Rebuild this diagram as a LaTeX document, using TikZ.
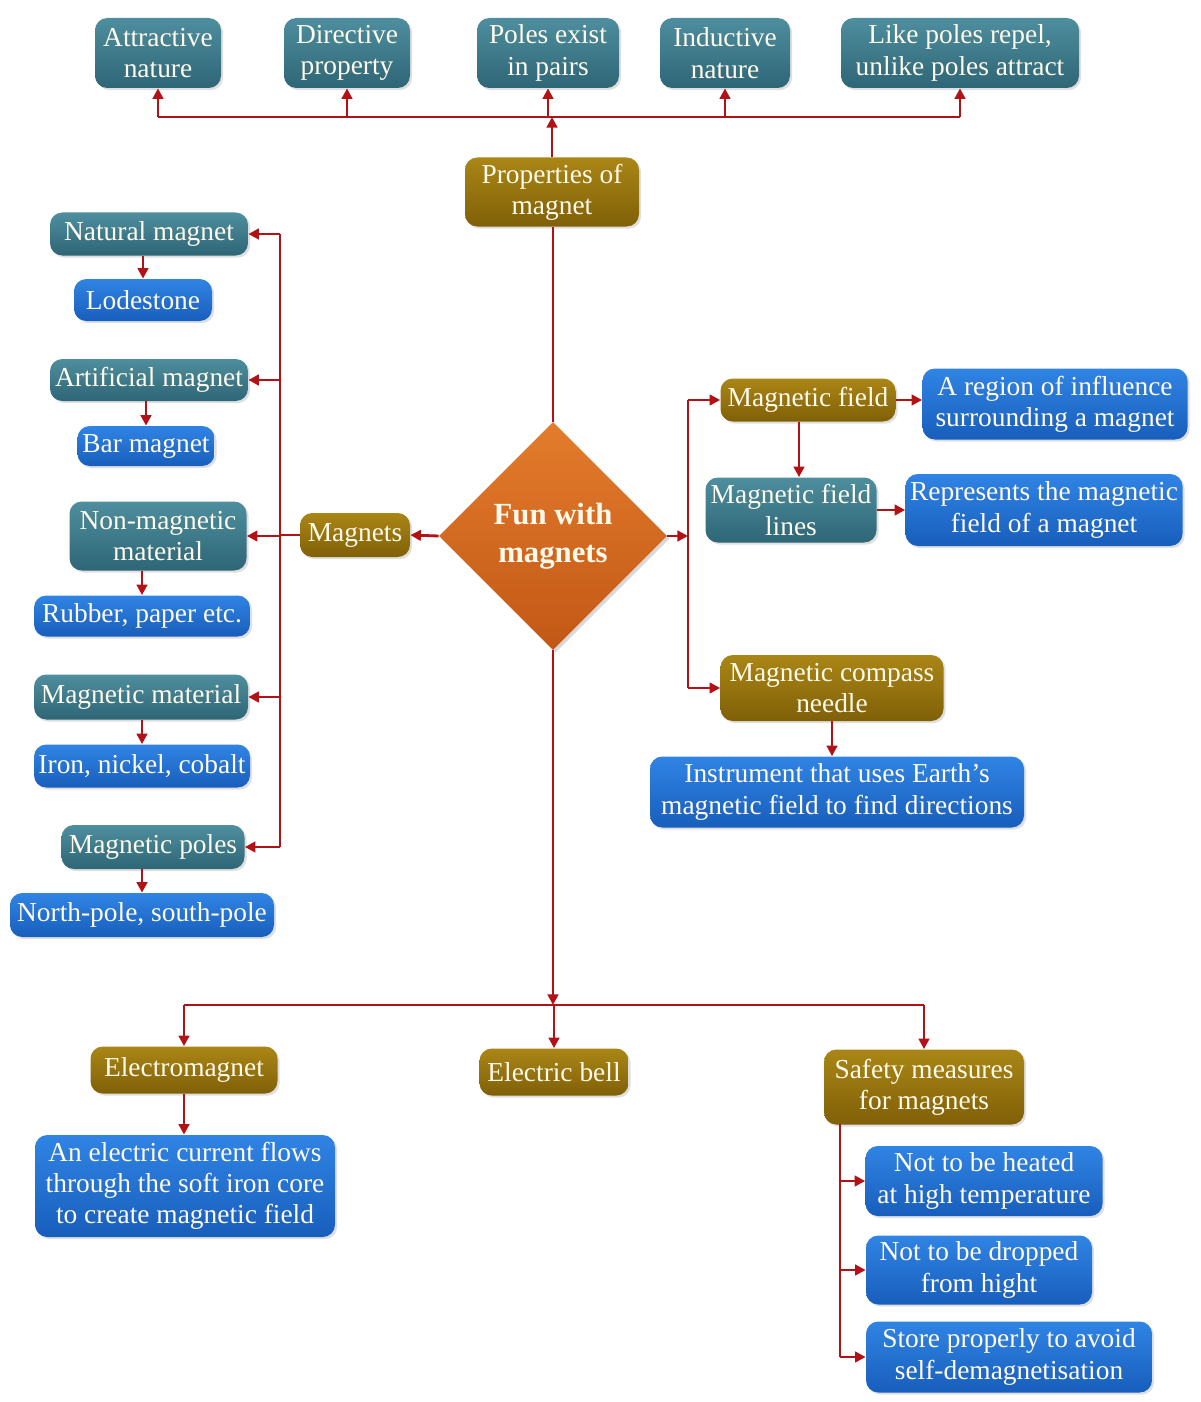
\documentclass[tikz,border=0pt]{standalone}
\usepackage{fontspec}
\setmainfont{Liberation Serif}
\usetikzlibrary{arrows.meta,shapes.geometric,shadows}
\definecolor{linered}{RGB}{178,18,22}
\definecolor{txt}{RGB}{255,250,235}
\definecolor{tealtop}{RGB}{78,142,158}
\definecolor{tealbot}{RGB}{46,102,118}
\definecolor{goldtop}{RGB}{170,134,22}
\definecolor{goldbot}{RGB}{128,96,8}
\definecolor{bluetop}{RGB}{48,132,228}
\definecolor{bluebot}{RGB}{24,94,188}
\definecolor{orgtop}{RGB}{228,124,44}
\definecolor{orgbot}{RGB}{194,88,22}
\tikzset{
  box/.style={rounded corners=7pt, text=txt, align=center, inner sep=1pt,
    font=\fontsize{15.6}{17.8}\selectfont,
    drop shadow={opacity=0.25, shadow xshift=1.2pt, shadow yshift=-1.2pt}},
  sz/.style 2 args={minimum width=#1*0.02cm, minimum height=#2*0.02cm},
  tealbox/.style={box, top color=tealtop, bottom color=tealbot},
  goldbox/.style={box, top color=goldtop, bottom color=goldbot},
  bluebox/.style={box, top color=bluetop, bottom color=bluebot},
  link/.style={draw=linered, line width=1.6pt},
  arr/.style={link, ->}
}
\begin{document}
\begin{tikzpicture}[x=0.02cm, y=-0.02cm, >={Triangle[length=6pt,width=6pt]}]
\useasboundingbox (0,0) rectangle (1200,1402);
% top row
\node[tealbox, sz={126}{70}] (attr) at (158,53) {Attractive\\nature};
\node[tealbox, sz={126}{70}] (dir) at (347,53) {Directive\\property};
\node[tealbox, sz={142}{70}] (pairs) at (548,53) {Poles exist\\in pairs};
\node[tealbox, sz={130}{70}] (induct) at (725,53) {Inductive\\nature};
\node[tealbox, sz={238}{70}] (like) at (960,53) {Like poles repel,\\unlike poles attract};
\node[goldbox, sz={174}{69}] (prop) at (552,192) {Properties of\\magnet};
\coordinate (topbar) at (552,117);
% centre
\node[diamond, aspect=1, inner sep=0pt, minimum width=4.56cm, minimum height=4.56cm,
  top color=orgtop, bottom color=orgbot, text=txt, align=center,
  font=\fontsize{17.5}{21.5}\selectfont\bfseries,
  drop shadow={opacity=0.3, shadow xshift=1.5pt, shadow yshift=-1.5pt}] (fun) at (553,536) {Fun with\\magnets};
\node[goldbox, sz={110}{44}] (mag) at (355,535) {Magnets};
% left column
\coordinate (lbus) at (280,535);
\node[tealbox, sz={198}{43}] (natural) at (149,234) {Natural magnet};
\node[bluebox, sz={138}{42}] (lode) at (143,300) {Lodestone};
\node[tealbox, sz={198}{42}] (artif) at (149,380) {Artificial magnet};
\node[bluebox, sz={137}{40}] (bar) at (146,446) {Bar magnet};
\node[tealbox, sz={177}{69}] (nonmag) at (158,536) {Non-magnetic\\material};
\node[bluebox, sz={216}{41}] (rubber) at (142,616) {Rubber, paper etc.};
\node[tealbox, sz={214}{45}] (magmat) at (141,697) {Magnetic material};
\node[bluebox, sz={216}{43}] (iron) at (142,766) {Iron, nickel, cobalt};
\node[tealbox, sz={183}{44}] (poles) at (153,847) {Magnetic poles};
\node[bluebox, sz={264}{44}] (ns) at (142,915) {North-pole, south-pole};
% right column
\coordinate (rbus) at (688,536);
\node[goldbox, sz={175}{43}] (field) at (808,400) {Magnetic field};
\node[bluebox, sz={265}{71}] (region) at (1055,404) {A region of influence\\surrounding a magnet};
\node[tealbox, sz={171}{65}] (lines) at (791,510) {Magnetic field\\lines};
\node[bluebox, sz={277}{72}] (repr) at (1044,510) {Represents the magnetic\\field of a magnet};
\node[goldbox, sz={223}{66}] (compass) at (832,688) {Magnetic compass\\needle};
\node[bluebox, sz={374}{71}] (instr) at (837,792) {Instrument that uses Earth's\\magnetic field to find directions};
% bottom row
\coordinate (botbar) at (553,1005);
\node[goldbox, sz={187}{47}] (emag) at (184,1070) {Electromagnet};
\node[bluebox, sz={300}{102}] (current) at (185,1186) {An electric current flows\\through the soft iron core\\to create magnetic field};
\node[goldbox, sz={149}{47}] (bell) at (554,1072) {Electric bell};
\node[goldbox, sz={200}{75}] (safety) at (924,1087) {Safety measures\\for magnets};
\coordinate (sbus) at (840,1124);
\node[bluebox, sz={237}{70}] (heat) at (984,1181) {Not to be heated\\at high temperature};
\node[bluebox, sz={226}{69}] (drop) at (979,1270) {Not to be dropped\\from hight};
\node[bluebox, sz={286}{71}] (store) at (1009,1357) {Store properly to avoid\\self-demagnetisation};
% connectors: properties
\draw[link] (fun.north) -- (fun.north |- prop.south);
\draw[arr] (prop.north) -- (topbar);
\draw[link] (attr.south |- topbar) -- (like.south |- topbar);
\foreach \n in {attr,dir,pairs,induct,like}
  \draw[arr] (\n.south |- topbar) -- (\n.south);
% connectors: magnets
\draw[arr] (fun.west) -- (mag.east);
\draw[link] (mag.west) -- (lbus);
\draw[link] (lbus |- natural.east) -- (lbus |- poles.east);
\foreach \n in {natural,artif,nonmag,magmat,poles}
  \draw[arr] (lbus |- \n.east) -- (\n.east);
\foreach \a/\b in {natural/lode,artif/bar,nonmag/rubber,magmat/iron,poles/ns}
  \draw[arr] (\a.south -| \b.north) -- (\b.north);
% connectors: field and compass
\draw[arr] (fun.east) -- (rbus);
\draw[link] (rbus |- field.west) -- (rbus |- compass.west);
\draw[arr] (rbus |- field.west) -- (field.west);
\draw[arr] (rbus |- compass.west) -- (compass.west);
\draw[arr] (field.east) -- (field.east -| region.west);
\draw[arr] ([xshift=-0.18cm]field.south) -- ([xshift=-0.18cm]field.south |- lines.north);
\draw[arr] (lines.east) -- (lines.east -| repr.west);
\draw[arr] (compass.south) -- (compass.south |- instr.north);
% connectors: bottom
\draw[arr] (fun.south) -- (botbar);
\draw[link] (botbar -| emag.north) -- (botbar -| safety.north);
\foreach \n in {emag,bell,safety}
  \draw[arr] (botbar -| \n.north) -- (\n.north);
\draw[arr] (emag.south) -- (emag.south |- current.north);
\draw[link] (sbus) -- (sbus |- store.west);
\foreach \n in {heat,drop,store}
  \draw[arr] (sbus |- \n.west) -- (\n.west);
\end{tikzpicture}
\end{document}
